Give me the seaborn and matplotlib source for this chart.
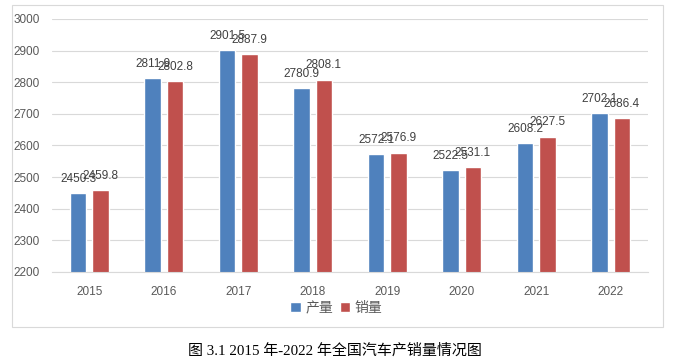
import matplotlib
matplotlib.use("Agg")
import matplotlib.pyplot as plt
import seaborn as sns
import pandas as pd
from matplotlib.patches import Rectangle

years = ["2015", "2016", "2017", "2018", "2019", "2020", "2021", "2022"]
production = [2450.3, 2811.9, 2901.5, 2780.9, 2572.1, 2522.5, 2608.2, 2702.1]
sales = [2459.8, 2802.8, 2887.9, 2808.1, 2576.9, 2531.1, 2627.5, 2686.4]
series_names = ["产量", "销量"]
colors = ["#4F81BD", "#C0504D"]
yticks = [2200, 2300, 2400, 2500, 2600, 2700, 2800, 2900, 3000]
caption = "图 3.1 2015 年-2022 年全国汽车产销量情况图"

df = pd.DataFrame({
    "year": years * 2,
    "value": production + sales,
    "series": [series_names[0]] * len(years) + [series_names[1]] * len(years),
})

sns.set_theme(style="white")
plt.rcParams["font.family"] = ["Liberation Sans", "Noto Sans CJK SC", "DejaVu Sans"]

fig = plt.figure(figsize=(6.73, 3.6), dpi=100)
ax = fig.add_axes([52 / 673, 88 / 360, 596 / 673, 253 / 360])

sns.barplot(data=df, x="year", y="value", hue="series", palette=colors,
            width=0.6, gap=0.25, ax=ax, saturation=1, legend=True)

ax.set_ylim(2200, 3000)
ax.set_xlim(-0.5, len(years) - 0.5)
ax.set_yticks(yticks)
ax.set_yticklabels([str(t) for t in yticks])
ax.yaxis.grid(True, color="#d9d9d9", linewidth=0.8)
ax.set_axisbelow(True)
for s in ["top", "right", "left"]:
    ax.spines[s].set_visible(False)
ax.spines["bottom"].set_color("#d9d9d9")
ax.spines["bottom"].set_linewidth(0.8)
ax.tick_params(axis="both", length=0, labelsize=8.5, colors="#595959")
ax.tick_params(axis="y", pad=9)
ax.tick_params(axis="x", pad=10)
ax.set_xlabel("")
ax.set_ylabel("")

for cont in ax.containers:
    labels = [f"{v:.1f}" for v in cont.datavalues]
    ax.bar_label(cont, labels=labels, padding=6, fontsize=8.5, color="#404040")

leg = ax.legend(loc="upper center", bbox_to_anchor=(0.477, -0.065), ncol=2,
                frameon=False, fontsize=10, handlelength=0.75, handleheight=0.75,
                handletextpad=0.3, columnspacing=0.5)
for t in leg.get_texts():
    t.set_color("#595959")

fig.patches.append(Rectangle((12 / 673, (360 - 327) / 360), 651 / 673, 322 / 360,
                             transform=fig.transFigure, fill=False,
                             edgecolor="#d9d9d9", linewidth=0.8))

fig.text(335 / 673, 1 - 351 / 360, caption, ha="center", va="center",
         fontsize=10.8, color="#000000",
         family=["Liberation Serif", "Noto Sans CJK SC"])

fig.savefig("out.png", dpi=100)
